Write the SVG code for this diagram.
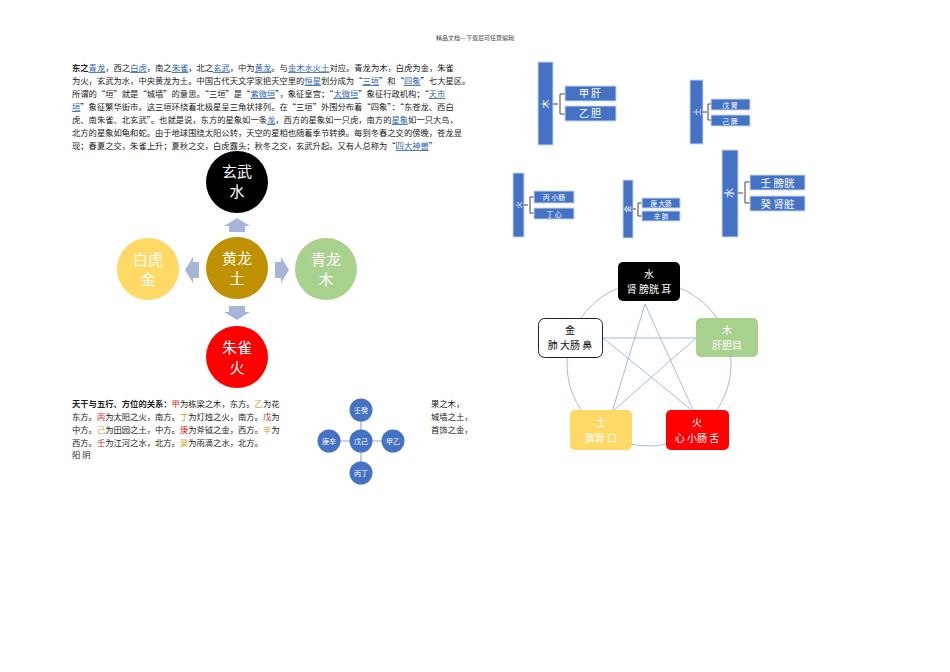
<svg xmlns="http://www.w3.org/2000/svg" width="950" height="672" viewBox="0 0 950 672">
<style>
text{font-family:"Noto Sans CJK SC","Noto Sans",sans-serif}
.p{font-size:8.3px;fill:#222}
.l{fill:#2f63b5;text-decoration:underline}
.r{fill:#e02020}.y{fill:#d4a017}
.cw{font-size:15px;fill:#fff;text-anchor:middle}
.bar{fill:#4472c4;stroke:#c9d6ee;stroke-width:1}
.bt{fill:#fff;text-anchor:middle}
.br{fill:none;stroke:#444;stroke-width:1}
.sc{fill:#4472c4}
.st{font-size:7px;fill:#fff;text-anchor:middle}
.ar{fill:#a7b5d9}
</style>
<rect width="950" height="672" fill="#fff"/>
<text x="475" y="40" font-size="6" fill="#444" text-anchor="middle">精品文档---下载后可任意编辑</text>
<g id="para" class="p">
<text x="72" y="71"><tspan font-weight="bold">东之</tspan><tspan class="l">青龙</tspan>，西之<tspan class="l">白虎</tspan>，南之<tspan class="l">朱雀</tspan>，北之<tspan class="l">玄武</tspan>，中为<tspan class="l">黄龙</tspan>。与<tspan class="l">金木水火土</tspan>对应。青龙为木，白虎为金，朱雀</text>
<text x="72" y="84">为火，玄武为水，中央黄龙为土。中国古代天文学家把天空里的<tspan class="l">恒星</tspan>划分成为“<tspan class="l">三垣</tspan>”和“<tspan class="l">四象</tspan>”七大星区。</text>
<text x="72" y="97">所谓的“垣”就是“城墙”的意思。“三垣”是“<tspan class="l">紫微垣</tspan>”，象征皇宫；“<tspan class="l">太微垣</tspan>”象征行政机构；“<tspan class="l">天市</tspan></text>
<text x="72" y="110"><tspan class="l">垣</tspan>”象征繁华街市。这三垣环绕着北极星呈三角状排列。在“三垣”外围分布着“四象”：“东苍龙、西白</text>
<text x="72" y="123">虎、南朱雀、北玄武”。也就是说，东方的星象如一条<tspan class="l">龙</tspan>，西方的星象如一只虎，南方的<tspan class="l">星象</tspan>如一只大鸟，</text>
<text x="72" y="136">北方的星象如龟和蛇。由于地球围绕太阳公转，天空的星相也随着季节转换。每到冬春之交的傍晚，苍龙显</text>
<text x="72" y="149">现；春夏之交，朱雀上升；夏秋之交，白虎露头；秋冬之交，玄武升起。又有人总称为“<tspan class="l">四大神兽</tspan>”</text>
</g>
<g id="arrows">
<polygon class="ar" points="229,232 229,226 224,226 237,218 250,226 245,226 245,232"/>
<polygon class="ar" points="199,262 193,262 193,257 185,270 193,283 193,278 199,278"/>
<polygon class="ar" points="275,262 281,262 281,257 289,270 281,283 281,278 275,278"/>
<polygon class="ar" points="229,306 229,312 224,312 237,320 250,312 245,312 245,306"/>
</g>
<g id="xuanwu"><circle cx="237" cy="182" r="31" fill="#000"/><text class="cw" x="237" y="177">玄武</text><text class="cw" x="237" y="197">水</text></g>
<g id="huanglong"><circle cx="237" cy="268" r="31" fill="#bf9000"/><text class="cw" x="237" y="264">黄龙</text><text class="cw" x="237" y="284">土</text></g>
<g id="baihu"><circle cx="148" cy="269" r="31" fill="#ffd966"/><text class="cw" x="148" y="265">白虎</text><text class="cw" x="148" y="285">金</text></g>
<g id="qinglong"><circle cx="326" cy="269" r="31" fill="#a9d18e"/><text class="cw" x="326" y="265">青龙</text><text class="cw" x="326" y="285">木</text></g>
<g id="zhuque"><circle cx="237" cy="357" r="31" fill="#ff0000"/><text class="cw" x="237" y="353">朱雀</text><text class="cw" x="237" y="373">火</text></g>
<g id="para2" class="p" font-size="8px">
<text x="72" y="407"><tspan font-weight="bold">天干与五行、方位的关系：</tspan><tspan class="r">甲</tspan>为栋梁之木，东方。<tspan class="y">乙</tspan>为花</text>
<text x="72" y="420">东方。<tspan class="r">丙</tspan>为太阳之火，南方。<tspan class="y">丁</tspan>为灯烛之火，南方。<tspan class="r">戊</tspan>为</text>
<text x="72" y="433">中方。<tspan class="y">己</tspan>为田园之土，中方。<tspan class="r">庚</tspan>为斧钺之金，西方。<tspan class="y">辛</tspan>为</text>
<text x="72" y="446">西方。<tspan class="r">壬</tspan>为江河之水，北方。<tspan class="y">癸</tspan>为雨滴之水，北方。</text>
<text x="72" y="458">阳 阴</text>
<text x="431" y="407">果之木，</text>
<text x="431" y="420">城墙之土，</text>
<text x="431" y="433">首饰之金，</text>
</g>
<g id="links" stroke="#8faadc" stroke-width="1.2"><line x1="361" y1="410" x2="361" y2="473"/><line x1="329" y1="441" x2="393" y2="441"/></g>
<g id="rengui"><circle class="sc" cx="361" cy="410" r="11.5"/><text class="st" x="361" y="413">壬癸</text></g>
<g id="wuji"><circle class="sc" cx="361" cy="441" r="11.5"/><text class="st" x="361" y="444">戊己</text></g>
<g id="gengxin"><circle class="sc" cx="329" cy="441" r="11.5"/><text class="st" x="329" y="444">庚辛</text></g>
<g id="jiayi"><circle class="sc" cx="393" cy="441" r="11.5"/><text class="st" x="393" y="444">甲乙</text></g>
<g id="bingding"><circle class="sc" cx="361" cy="473" r="11.5"/><text class="st" x="361" y="476">丙丁</text></g>

<g id="mu-tree">
<rect class="bar" x="538" y="62" width="15" height="83"/><text class="bt" font-size="9" x="545.5" y="107" transform="rotate(-90 545.5 104)">木</text>
<path class="br" d="M553,104 H558 M565,94 H560 V114 H565"/>
<rect class="bar" x="565" y="86" width="51" height="15"/><text class="bt" font-size="10" x="590" y="97">甲 肝</text>
<rect class="bar" x="565" y="106" width="51" height="15"/><text class="bt" font-size="10" x="590" y="117">乙 胆</text>
</g>
<g id="tu-tree">
<rect class="bar" x="690" y="80" width="13" height="64"/><text class="bt" font-size="8" x="696.5" y="115" transform="rotate(-90 696.5 112)">土</text>
<path class="br" d="M703,112 H707 M711,104 H708 V120 H711"/>
<rect class="bar" x="711" y="99" width="39" height="11"/><text class="bt" font-size="7" x="730" y="107.5">戊 胃</text>
<rect class="bar" x="711" y="115" width="39" height="11"/><text class="bt" font-size="7" x="730" y="123.5">己 脾</text>
</g>
<g id="huo-tree">
<rect class="bar" x="513" y="173" width="11" height="64"/><text class="bt" font-size="7" x="518.5" y="207" transform="rotate(-90 518.5 205)">火</text>
<path class="br" d="M524,205 H528 M534,197 H530 V213 H534"/>
<rect class="bar" x="534" y="191" width="40" height="12"/><text class="bt" font-size="7" x="554" y="200">丙 小肠</text>
<rect class="bar" x="534" y="208" width="40" height="11"/><text class="bt" font-size="7" x="554" y="216.5">丁 心</text>
</g>
<g id="jin-tree">
<rect class="bar" x="623" y="180" width="10" height="58"/><text class="bt" font-size="7" x="628" y="211" transform="rotate(-90 628 209)">金</text>
<path class="br" d="M633,209 H636 M642,203 H638 V216 H642"/>
<rect class="bar" x="642" y="198" width="38" height="10"/><text class="bt" font-size="6.5" x="661" y="205.5">庚 大肠</text>
<rect class="bar" x="642" y="211" width="38" height="10"/><text class="bt" font-size="6.5" x="661" y="218.5">辛 肺</text>
</g>
<g id="shui-tree">
<rect class="bar" x="722" y="150" width="16" height="87"/><text class="bt" font-size="10" x="730" y="196" transform="rotate(-90 730 193)">水</text>
<path class="br" d="M738,193 H743 M750,182 H745 V203 H750"/>
<rect class="bar" x="750" y="175" width="55" height="15"/><text class="bt" font-size="10.5" x="777.5" y="186.5">壬 膀胱</text>
<rect class="bar" x="750" y="196" width="55" height="15"/><text class="bt" font-size="10.5" x="777.5" y="207.5">癸 肾脏</text>
</g>

<g id="pentagon-lines" fill="none" stroke="#8faadc" stroke-width="0.8">
<circle cx="649" cy="364" r="82"/>
<line x1="645" y1="304" x2="612" y2="412"/>
<line x1="645" y1="304" x2="694" y2="412"/>
<line x1="603" y1="338" x2="696" y2="338"/>
<line x1="603" y1="338" x2="694" y2="412"/>
<line x1="696" y1="338" x2="612" y2="412"/>
</g>
<g id="shui"><rect x="618" y="262" width="62" height="39" rx="5" fill="#000"/><text x="649" y="278" font-size="10" fill="#fff" text-anchor="middle">水</text><text x="649" y="293" font-size="10" fill="#fff" text-anchor="middle">肾 膀胱 耳</text></g>
<g id="mu"><rect x="696" y="318" width="62" height="39" rx="5" fill="#a9d18e"/><text x="727" y="334" font-size="10" fill="#fff" text-anchor="middle">木</text><text x="727" y="349" font-size="10" fill="#fff" text-anchor="middle">肝胆目</text></g>
<g id="huo"><rect x="666" y="410" width="63" height="40" rx="5" fill="#ff0000"/><text x="697" y="426" font-size="10" fill="#fff" text-anchor="middle">火</text><text x="697" y="442" font-size="10" fill="#fff" text-anchor="middle">心 小肠 舌</text></g>
<g id="tu"><rect x="570" y="410" width="62" height="40" rx="5" fill="#ffd966"/><text x="601" y="426" font-size="10" fill="#fff" text-anchor="middle">土</text><text x="601" y="442" font-size="10" fill="#fff" text-anchor="middle">脾胃 口</text></g>
<g id="jin"><rect x="538.5" y="318.5" width="64" height="39" rx="6" fill="#fff" stroke="#222"/><text x="570" y="334" font-size="10" fill="#111" text-anchor="middle">金</text><text x="570" y="349" font-size="10" fill="#111" text-anchor="middle">肺 大肠 鼻</text></g>
</svg>
